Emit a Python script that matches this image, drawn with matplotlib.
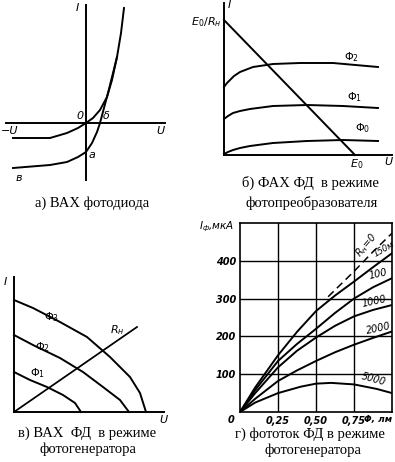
import matplotlib
matplotlib.use("Agg")
import matplotlib.pyplot as plt

W, H = 395, 462

# ---- panel a: diode I-V (abstract units) ----
a_dark_u = [-73, -36, -19, -8, 0, 7, 14, 21, 26, 31, 35, 38]
a_dark_i = [-15, -15, -10, -5, 0, 5, 13, 26, 43, 66, 90, 115]
a_light_u = [-73, -36, -19, -8, 0, 6, 11, 14, 18, 22, 26, 29, 31]
a_light_i = [-45, -42, -39, -34, -29, -20, -9, 0, 15, 30, 46, 58, 66]

# ---- panel b: photoconverter mode ----
b_load_u = [0, 131]
b_load_i = [135, 0]
b_phi2_u = [0, 3, 6, 10, 16, 29, 49, 76, 109, 154]
b_phi2_i = [68, 72, 75, 79, 83, 88, 91, 92, 92, 88]
b_phi1_u = [0, 4, 9, 16, 26, 49, 83, 119, 154]
b_phi1_i = [36, 39, 42, 44, 46, 49, 50, 49, 47]
b_phi0_u = [0, 4, 9, 16, 26, 49, 83, 119, 154]
b_phi0_i = [1, 3, 5, 7, 9, 12, 14, 15, 14]

# ---- panel c: photogenerator mode ----
c_phi3_u = [0, 19, 46, 73, 96, 116, 126, 132]
c_phi3_i = [112, 104, 90, 75, 55, 35, 19, 0]
c_phi2_u = [0, 19, 46, 69, 89, 106, 115]
c_phi2_i = [77, 67, 54, 40, 25, 12, 0]
c_phi1_u = [0, 16, 33, 49, 61, 67]
c_phi1_i = [40, 32, 25, 17, 9, 0]
c_load_u = [0, 123]
c_load_i = [0, 85]

# ---- panel d: photocurrent vs flux ----
d_flux = [0, 0.1, 0.25, 0.375, 0.5, 0.625, 0.75, 0.875, 1.0]
d_r150 = [0, 65, 150, 212, 267, 308, 345, 383, 420]
d_r100 = [0, 58, 135, 180, 220, 262, 300, 330, 354]
d_r1000 = [0, 50, 118, 162, 197, 228, 253, 270, 283]
d_r2000 = [0, 35, 82, 110, 135, 158, 178, 196, 213]
d_r0_flux = [0.58, 0.75, 0.875, 1.0]
d_r0 = [305, 372, 424, 473]
d_r5000_flux = [0, 0.1, 0.25, 0.4, 0.5, 0.6, 0.75, 0.9, 1.0]
d_r5000 = [0, 25, 50, 67, 75, 77, 73, 61, 50]
d_xticks = [0.25, 0.5, 0.75]
d_xticklabels = ["0,25", "0,50", "0,75"]
d_yticks = [100, 200, 300, 400]

fig = plt.figure(figsize=(W / 100, H / 100), dpi=100)
fig.patch.set_facecolor("white")


def px_axes(x0, y0, x1, y1):
    return fig.add_axes([x0 / W, 1 - y1 / H, (x1 - x0) / W, (y1 - y0) / H])


LW = 1.4
lab = dict(fontsize=8, style="italic", family="DejaVu Sans", color="black")
cap = dict(fontsize=10.5, family="Liberation Serif", color="black", ha="center", va="center")

# panel a
ax = px_axes(0, 0, 170, 190)
ax.set_xlim(-86, 84)
ax.set_ylim(-67, 123)
ax.axis("off")
ax.plot([-80, 79], [0, 0], color="black", lw=LW)
ax.plot([0, 0], [-57, 118], color="black", lw=LW)
ax.plot(a_dark_u, a_dark_i, color="black", lw=LW)
ax.plot(a_light_u, a_light_i, color="black", lw=LW)
ax.text(-9, 115, "I", ha="center", va="center", **lab)
ax.text(-6, 7, "0", ha="center", va="center", **lab)
ax.text(20, 7, "δ", ha="center", va="center", **lab)
ax.text(6, -32, "a", ha="center", va="center", **lab)
ax.text(-76, -8, "−U", ha="center", va="center", **lab)
ax.text(74, -8, "U", ha="center", va="center", **lab)
ax.text(-67, -55, "в", ha="center", va="center", **lab)

# panel b
ax = px_axes(200, 0, 395, 170)
ax.set_xlim(-24, 171)
ax.set_ylim(-15, 155)
ax.axis("off")
ax.plot([0, 168], [0, 0], color="black", lw=LW)
ax.plot([0, 0], [0, 152], color="black", lw=LW)
ax.plot(b_load_u, b_load_i, color="black", lw=LW)
ax.plot(b_phi2_u, b_phi2_i, color="black", lw=LW)
ax.plot(b_phi1_u, b_phi1_i, color="black", lw=LW)
ax.plot(b_phi0_u, b_phi0_i, color="black", lw=LW)
ax.text(5, 150, "I", ha="center", va="center", **lab)
ax.text(-2, 133, "$E_0/R_н$", ha="right", va="center", **lab)
ax.text(128, 98, "$Φ_2$", ha="center", va="center", **lab)
ax.text(131, 58, "$Φ_1$", ha="center", va="center", **lab)
ax.text(139, 27, "$Φ_0$", ha="center", va="center", **lab)
ax.text(133, -9, "$E_0$", ha="center", va="center", **lab)
ax.text(164, -7, "U", ha="center", va="center", **lab)

# panel c
ax = px_axes(0, 270, 170, 425)
ax.set_xlim(-14, 156)
ax.set_ylim(-13, 142)
ax.axis("off")
ax.plot([0, 150], [0, 0], color="black", lw=LW)
ax.plot([0, 0], [0, 135], color="black", lw=LW)
ax.plot(c_phi3_u, c_phi3_i, color="black", lw=LW)
ax.plot(c_phi2_u, c_phi2_i, color="black", lw=LW)
ax.plot(c_phi1_u, c_phi1_i, color="black", lw=LW)
ax.plot(c_load_u, c_load_i, color="black", lw=LW * 0.9)
ax.text(-9, 130, "I", ha="center", va="center", **lab)
ax.text(149, -8, "U", ha="center", va="center", **lab)
ax.text(38, 95, "$Φ_3$", ha="center", va="center", **lab)
ax.text(29, 65, "$Φ_2$", ha="center", va="center", **lab)
ax.text(24, 39, "$Φ_1$", ha="center", va="center", **lab)
ax.text(103, 82, "$R_н$", ha="center", va="center", **lab)

# panel d
ax = px_axes(240, 223, 392, 412)
ax.set_xlim(0, 1.0)
ax.set_ylim(0, 500)
for s in ax.spines.values():
    s.set_linewidth(1.2)
ax.set_xticks(d_xticks)
ax.set_yticks(d_yticks)
ax.grid(True, color="black", lw=1.0)
ax.tick_params(length=0, pad=3)
tfont = dict(fontsize=7, style="italic", weight="bold", family="DejaVu Sans")
ax.set_xticklabels(d_xticklabels, **tfont)
ax.set_yticklabels([str(v) for v in d_yticks], **tfont)
ax.plot(d_flux, d_r150, color="black", lw=LW)
ax.plot(d_flux, d_r100, color="black", lw=LW)
ax.plot(d_flux, d_r1000, color="black", lw=LW)
ax.plot(d_flux, d_r2000, color="black", lw=LW)
ax.plot(d_r5000_flux, d_r5000, color="black", lw=LW)
ax.plot(d_r0_flux, d_r0, color="black", lw=1.1, ls=(0, (5, 3)))
ax.text(-0.06, -20, "0", ha="center", va="center", **tfont)
ax.text(0.91, -20, "Φ, лм", ha="center", va="center", fontsize=6.5, style="italic",
        weight="bold", family="DejaVu Sans")
ax.text(-0.04, 490, "$I_ф$,мкА", ha="right", va="center", fontsize=7.5, style="italic",
        family="DejaVu Sans")
ax.text(0.83, 442, "$R_н$=0", rotation=50, ha="center", va="center", fontsize=7, style="italic",
        clip_on=False)
ax.text(0.95, 430, "150м", rotation=30, ha="center", va="center", fontsize=6, style="italic",
        clip_on=False)
ax.text(0.91, 365, "100", rotation=12, ha="center", va="center", fontsize=7, style="italic")
ax.text(0.88, 293, "1000", rotation=12, ha="center", va="center", fontsize=7, style="italic")
ax.text(0.91, 220, "2000", rotation=12, ha="center", va="center", fontsize=7, style="italic")
ax.text(0.88, 87, "5000", rotation=-15, ha="center", va="center", fontsize=7, style="italic")

# captions
fig.text(92 / W, 1 - 203 / H, "а) ВАХ фотодиода", **cap)
fig.text(310 / W, 1 - 183 / H, "б) ФАХ ФД  в режиме", **cap)
fig.text(312 / W, 1 - 203 / H, "фотопреобразователя", **cap)
fig.text(87 / W, 1 - 433 / H, "в) ВАХ  ФД  в режиме", **cap)
fig.text(88 / W, 1 - 449 / H, "фотогенератора", **cap)
fig.text(310 / W, 1 - 434 / H, "г) фототок ФД в режиме", **cap)
fig.text(313 / W, 1 - 450 / H, "фотогенератора", **cap)

fig.savefig("out.png", dpi=100, facecolor="white")
